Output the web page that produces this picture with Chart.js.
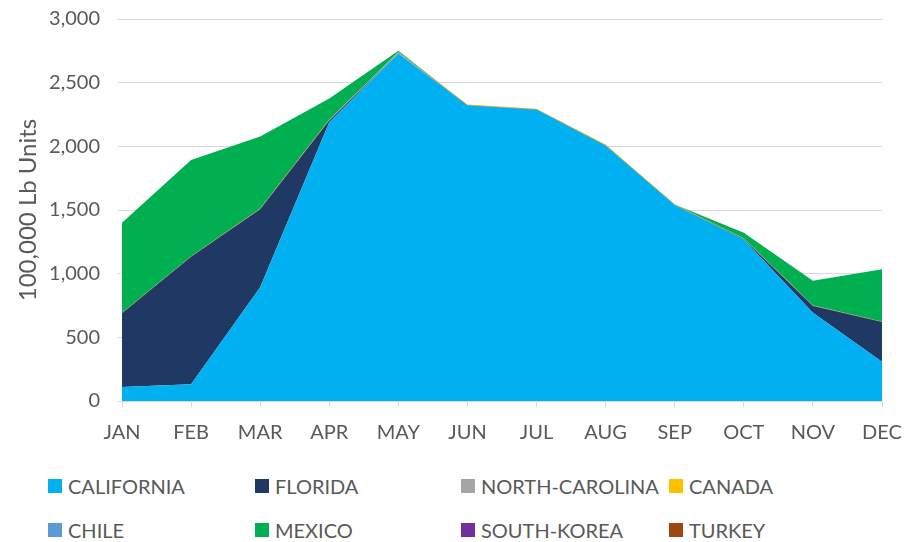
<!DOCTYPE html>
<html>
<head>
<meta charset="utf-8">
<script src="https://cdn.jsdelivr.net/npm/chart.js@4.4.1/dist/chart.umd.min.js"></script>
<style>
  html, body { margin: 0; padding: 0; background: #ffffff; }
  #wrap { position: relative; width: 904px; height: 542px; overflow: hidden; }
  #chartBox { position: absolute; left: 0; top: 0; width: 904px; height: 451px; }
  .leg { position: absolute; font-family: Lato, "Liberation Sans", sans-serif; font-size: 20px; color: #595959; line-height: 20px; white-space: nowrap; }
  .leg span.sw { position: absolute; left: -20px; top: 3px; width: 14px; height: 14px; }
</style>
</head>
<body>
<div id="wrap">
  <div id="chartBox"><canvas id="c" width="904" height="451"></canvas></div>
  <div id="legend"></div>
</div>
<script>
const months = ['JAN','FEB','MAR','APR','MAY','JUN','JUL','AUG','SEP','OCT','NOV','DEC'];
const seriesNames = ['CALIFORNIA','FLORIDA','NORTH-CAROLINA','CANADA','CHILE','MEXICO','SOUTH-KOREA','TURKEY'];
const california    = [110, 131, 893, 2190, 2730, 2320, 2288, 2005, 1538, 1268, 693, 309];
const florida       = [580, 1002, 612, 12, 0, 0, 0, 0, 0, 5, 53, 311];
const northCarolina = [0, 0, 3, 5, 8, 0, 0, 0, 0, 2, 2, 0];
const canada        = [0, 0, 0, 0, 0, 5, 3, 5, 2, 0, 0, 0];
const chile         = [0, 0, 0, 0, 0, 0, 0, 0, 0, 0, 0, 0];
const mexico        = [710, 760, 570, 168, 13, 0, 0, 3, 4, 47, 197, 414];
const southKorea    = [0, 0, 0, 0, 0, 0, 0, 0, 0, 0, 0, 0];
const turkey        = [0, 0, 0, 0, 0, 0, 0, 0, 0, 0, 0, 0];
const yTicks = [0, 500, 1000, 1500, 2000, 2500, 3000];

const colors = ['#00B0F0','#203864','#A5A5A5','#FFC000','#5B9BD5','#00B050','#7030A0','#9E480E'];
const values = [california, florida, northCarolina, canada, chile, mexico, southKorea, turkey];

const datasets = seriesNames.map((n, i) => ({
  label: n,
  data: values[i],
  backgroundColor: colors[i],
  borderColor: colors[i],
  borderWidth: (i === 2 || i === 3) ? 1 : 0,
  pointRadius: 0,
  pointHoverRadius: 0,
  tension: 0,
  fill: i === 0 ? 'origin' : '-1',
  order: 0
}));

const font = { family: 'Lato, "Liberation Sans", sans-serif', size: 20 };

new Chart(document.getElementById('c'), {
  type: 'line',
  data: { labels: months, datasets },
  options: {
    responsive: false,
    animation: false,
    layout: { padding: { left: 0, right: 22, top: 19, bottom: 0 } },
    plugins: { legend: { display: false }, tooltip: { enabled: false } },
    scales: {
      x: {
        offset: false,
        afterFit: s => { s.height = 50; s.paddingLeft = 0; s.paddingRight = 0; },
        grid: { drawOnChartArea: false, drawTicks: true, tickLength: 6, color: '#d9d9d9' },
        border: { display: true, color: '#d9d9d9' },
        ticks: { color: '#595959', font, padding: 14, maxRotation: 0, autoSkip: false }
      },
      y: {
        stacked: true,
        min: 0, max: 3000,
        afterBuildTicks: s => { s.ticks = yTicks.map(v => ({ value: v })); },
        afterFit: s => { s.width = 122; s.paddingTop = 0; s.paddingBottom = 0; },
        grid: { color: '#d9d9d9', drawTicks: true, tickLength: 4 },
        border: { display: false },
        ticks: { color: '#595959', font, padding: 18,
          callback: v => v.toLocaleString('en-US') },
        title: { display: true, text: '100,000 Lb Units', color: '#595959',
          font: { family: font.family, size: 24 }, padding: { top: 14, bottom: 0 } }
      }
    }
  }
});

const legend = document.getElementById('legend');
const colX = [68, 275, 481, 689];
const rowY = [476, 520];
seriesNames.forEach((n, i) => {
  const d = document.createElement('div');
  d.className = 'leg';
  d.style.left = colX[i % 4] + 'px';
  d.style.top = rowY[Math.floor(i / 4)] + 'px';
  d.innerHTML = '<span class="sw" style="background:' + colors[i] + '"></span>' + n;
  legend.appendChild(d);
});
</script>
</body>
</html>
